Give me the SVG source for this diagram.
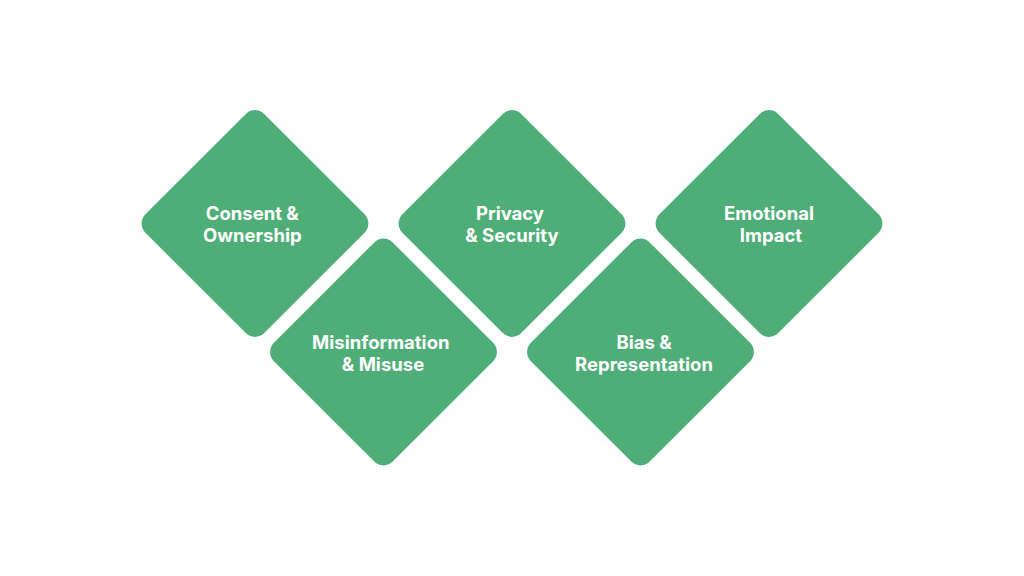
<svg xmlns="http://www.w3.org/2000/svg" width="1024" height="576" viewBox="0 0 1024 576">
<style>
.d{fill:#4fae78}
.t{font-family:Inter,"Liberation Sans",sans-serif;font-weight:700;font-size:18.5px;fill:#fff;text-anchor:middle}
</style>
<defs><rect id="r" x="-84" y="-84" width="168" height="168" rx="13" transform="rotate(45)"/></defs>
<rect width="1024" height="576" fill="#fefefe"/>
<g id="connectors"/>
<g id="n1"><use href="#r" class="d" transform="translate(255 223.500)"/><text class="t" x="252.300" y="219.500">Consent &amp;</text><text class="t" x="252.300" y="241.500">Ownership</text></g>
<g id="n2"><use href="#r" class="d" transform="translate(383.500 352)"/><text class="t" x="380.800" y="348.500">Misinformation</text><text class="t" x="383" y="370.500">&amp; Misuse</text></g>
<g id="n3"><use href="#r" class="d" transform="translate(512 223.500)"/><text class="t" x="510" y="219.500">Privacy</text><text class="t" x="512" y="241.500">&amp; Security</text></g>
<g id="n4"><use href="#r" class="d" transform="translate(640.500 352)"/><text class="t" x="644" y="348.500">Bias &amp;</text><text class="t" x="644" y="370.500">Representation</text></g>
<g id="n5"><use href="#r" class="d" transform="translate(769 223.500)"/><text class="t" x="769" y="219.500">Emotional</text><text class="t" x="771" y="241.500">Impact</text></g>
</svg>
